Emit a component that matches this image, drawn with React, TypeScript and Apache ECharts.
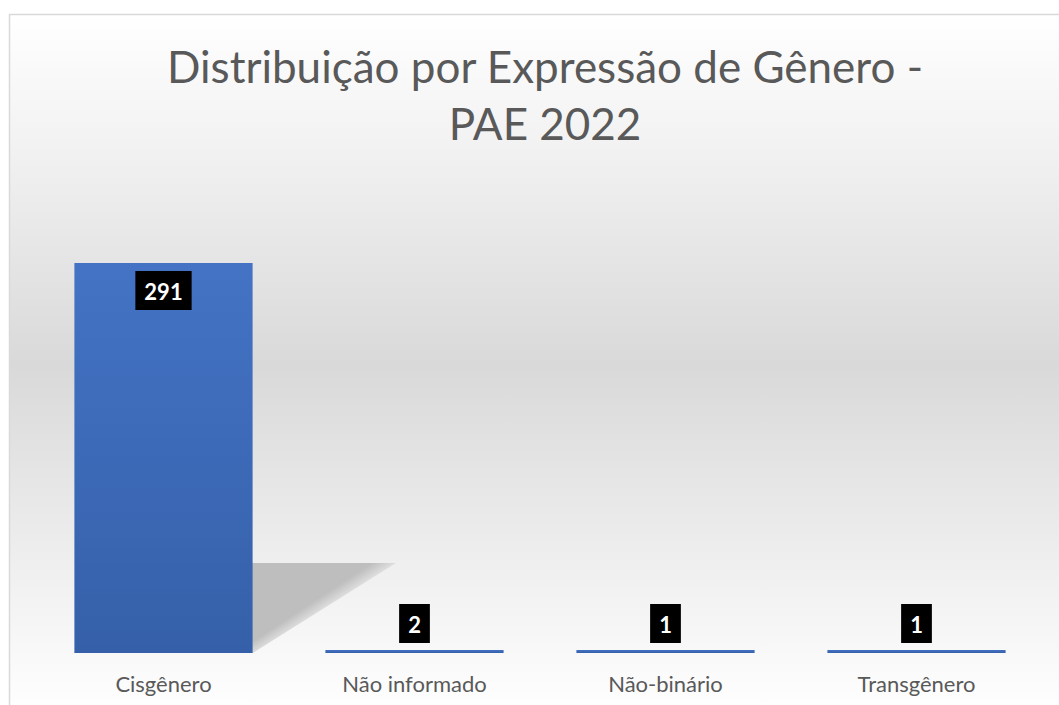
import React, { useEffect, useRef } from "react";
import * as echarts from "echarts";

const titleText = "Distribuição por Expressão de Gênero -\nPAE 2022";
const categories = ["Cisgênero", "Não informado", "Não-binário", "Transgênero"];
const values = [291, 2, 1, 1];

export default function App() {
  const ref = useRef<HTMLDivElement>(null);
  useEffect(() => {
    if (!ref.current) return;
    const chart = echarts.init(ref.current, undefined, { renderer: "svg" });
    const font = "Lato, 'Open Sans', sans-serif";
    chart.setOption({
      animation: false,
      backgroundColor: "#ffffff",
      title: {
        text: titleText,
        left: 540,
        textAlign: "center",
        top: 32,
        textStyle: { fontFamily: font, fontSize: 44, fontWeight: "normal", color: "#595959", lineHeight: 57 },
      },
      grid: { left: 38, right: 17, top: 184, bottom: 52 },
      xAxis: {
        type: "category",
        data: categories,
        axisLine: { show: false },
        axisTick: { show: false },
        axisLabel: { fontFamily: font, fontSize: 22, color: "#595959", margin: 19 },
      },
      yAxis: { type: "value", min: 0, max: 350, show: false, splitLine: { show: false } },
      series: [
        {
          type: "bar",
          data: values.map((v, i) => ({
            value: v,
            label: i === 0 ? { position: "insideTop", distance: 8 } : { position: "top", distance: 7 },
          })),
          barCategoryGap: "29%",
          barMinHeight: 3,
          z: 5,
          itemStyle: {
            color: new echarts.graphic.LinearGradient(0, 0, 0, 1, [
              { offset: 0, color: "#4473c5" },
              { offset: 1, color: "#3560a9" },
            ]),
          },
          label: {
            show: true,
            fontFamily: font,
            fontSize: 22,
            fontWeight: "bold",
            color: "#ffffff",
            backgroundColor: "#000000",
            padding: [9, 9, 8, 9],
          },
        },
      ],
    });
    const base = chart.convertToPixel({ xAxisIndex: 0, yAxisIndex: 0 }, [0, 0]) as number[];
    const barW = 179;
    const xl = base[0] - barW / 2;
    const xr = base[0] + barW / 2;
    const yb = base[1];
    const dx = 137;
    const dy = 90;
    const nx = 90 / 164;
    const ny = 137 / 164;
    const mx = xr + dx / 2;
    const my = yb - dy / 2;
    const k = 10;
    chart.setOption({
      graphic: [
        {
          type: "rect",
          z: -10,
          silent: true,
          shape: { x: 9.5, y: 14.5, width: 1070, height: 700 },
          style: {
            fill: new echarts.graphic.LinearGradient(0, 0, 0, 1, [
              { offset: 0, color: "#ffffff" },
              { offset: 0.2, color: "#f1f1f1" },
              { offset: 0.5, color: "#d9d9d9" },
              { offset: 0.8, color: "#f0f0f0" },
              { offset: 1, color: "#ffffff" },
            ]),
            stroke: "#d9d9d9",
            lineWidth: 1.5,
          },
        },
        {
          type: "polygon",
          z: -5,
          silent: true,
          shape: {
            points: [
              [xl, yb],
              [xr, yb],
              [xr + dx + 6, yb - dy],
              [xl + dx, yb - dy],
            ],
          },
          style: {
            fill: new echarts.graphic.LinearGradient(
              mx - k * nx,
              my - k * ny,
              mx + k * nx,
              my + k * ny,
              [
                { offset: 0, color: "rgba(190,190,190,1)" },
                { offset: 1, color: "rgba(190,190,190,0)" },
              ],
              true
            ),
          },
        },
      ],
    });
    return () => chart.dispose();
  }, []);
  return <div ref={ref} style={{ position: "fixed", left: 0, top: 0, width: 1059, height: 705 }} />;
}
